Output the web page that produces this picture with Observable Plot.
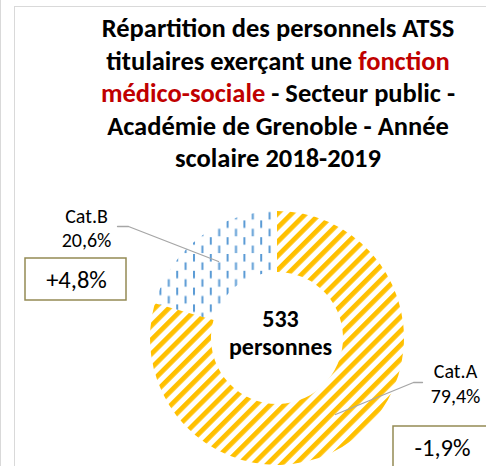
<!DOCTYPE html>
<html><head><meta charset="utf-8">
<script src="https://cdn.jsdelivr.net/npm/d3@7"></script>
<script src="https://cdn.jsdelivr.net/npm/@observablehq/plot@0.6"></script>
<style>
body{margin:0;background:#fff;}
#wrap{position:relative;width:486px;height:466px;overflow:hidden;font-family:Carlito,Lato,sans-serif;}
.edge{position:absolute;left:0;top:0;width:1px;height:466px;background:#d9d9d9;}
.frame{position:absolute;left:14px;top:6px;width:700px;height:700px;border:1.5px solid #d9d9d9;}
#title{position:absolute;left:0;top:12px;width:556px;text-align:center;font-weight:bold;font-size:26.5px;line-height:32.5px;white-space:nowrap;color:#000;}
#title .red{color:#c00000;}
#chart{position:absolute;left:0;top:0;}
</style></head>
<body>
<div id="wrap">
  <div class="edge"></div>
  <div class="frame"></div>
  <div id="chart"></div>
  <div id="title">Répartition des personnels ATSS<br>titulaires exerçant une <span class="red">fonction</span><br><span class="red">médico-sociale</span> - Secteur public -<br>Académie de Grenoble - Année<br>scolaire 2018-2019</div>
</div>
<script>
// ---- data ----
const categories = ["Cat.A", "Cat.B"];
const shares = [79.4, 20.6];
const shareLabels = ["79,4%", "20,6%"];
const evolutions = ["-1,9%", "+4,8%"];
const totalValue = "533";
const totalUnit = "personnes";

// ---- layout (pixel space) ----
const donutGeom = {cx: 277, cy: 338, outer: 127, inner: 66};
const labelPos = [{x: 455, y1: 371, y2: 396}, {x: 86, y1: 216, y2: 240}];
const boxPos = [{x1: 393, x2: 520, y1: 426, y2: 500, tx: 442, ty: 448}, {x1: 25, x2: 126, y1: 258, y2: 300, tx: 76, ty: 280}];
const leaderPts = [
  [[422, 382], [413, 382], [335, 414]],
  [[117, 226], [128, 226], [218, 261]]
];
const fills = ["#FFC000", "#5B9BD5"];

const table = categories.map((c, i) => ({category: c, value: shares[i], label: shareLabels[i], evo: evolutions[i], i}));

function donut(index, scales, values, dims) {
  const sx = scales.x || (v => v), sy = scales.y || (v => v);
  const g = d3.create("svg:g");
  const defs = g.append("defs");
  const pA = defs.append("pattern").attr("id", "patA").attr("patternUnits", "userSpaceOnUse")
    .attr("width", 10).attr("height", 10).attr("patternTransform", "rotate(45)");
  pA.append("rect").attr("x", 0).attr("y", 0).attr("width", 4.8).attr("height", 10).attr("fill", fills[0]);
  const pB = defs.append("pattern").attr("id", "patB").attr("patternUnits", "userSpaceOnUse")
    .attr("width", 16.8).attr("height", 16.8);
  pB.append("rect").attr("x", 0).attr("y", 0).attr("width", 2).attr("height", 7.5).attr("fill", fills[1]);
  pB.append("rect").attr("x", 8.4).attr("y", 8.4).attr("width", 2).attr("height", 7.5).attr("fill", fills[1]);
  const cx = sx(donutGeom.cx), cy = sy(donutGeom.cy);
  const R = sx(donutGeom.cx + donutGeom.outer) - cx;
  const r = sx(donutGeom.cx + donutGeom.inner) - cx;
  const arcs = d3.pie().sort(null).value(d => d.value)(table);
  const arc = d3.arc().innerRadius(r).outerRadius(R);
  g.append("g").attr("transform", `translate(${cx},${cy})`)
    .selectAll("path").data(arcs).join("path")
    .attr("d", arc)
    .attr("fill", d => d.index === 0 ? "url(#patA)" : "url(#patB)");
  return g.node();
}

const leaders = leaderPts.flatMap((pts, k) => pts.map(([x, y]) => ({x, y, k})));
const font = "Carlito, Lato, sans-serif";

const plot = Plot.plot({
  width: 486, height: 466, margin: 0,
  x: {domain: [0, 486], range: [0, 486], axis: null},
  y: {domain: [0, 466], range: [0, 466], axis: null},
  style: {fontFamily: font, background: "transparent"},
  marks: [
    donut,
    Plot.line(leaders, {x: "x", y: "y", z: "k", stroke: "#a6a6a6", strokeWidth: 1.3}),
    Plot.text(table, {x: (d) => labelPos[d.i].x, y: (d) => labelPos[d.i].y1, text: "category", fontSize: 20, fill: "#000"}),
    Plot.text(table, {x: (d) => labelPos[d.i].x, y: (d) => labelPos[d.i].y2, text: "label", fontSize: 20, fill: "#000"}),
    Plot.rect(table, {x1: d => boxPos[d.i].x1, x2: d => boxPos[d.i].x2, y1: d => boxPos[d.i].y1, y2: d => boxPos[d.i].y2, fill: "white", stroke: "#948A54", strokeWidth: 1.5}),
    Plot.text(table, {x: d => boxPos[d.i].tx, y: d => boxPos[d.i].ty, text: "evo", fontSize: 24.5, fill: "#000"}),
    Plot.text([totalValue], {x: () => donutGeom.cx + 3, y: () => 319, text: d => d, fontSize: 24, fontWeight: "bold", fill: "#000"}),
    Plot.text([totalUnit], {x: () => donutGeom.cx + 3, y: () => 347, text: d => d, fontSize: 24, fontWeight: "bold", fill: "#000"})
  ]
});
document.getElementById("chart").appendChild(plot);
</script>
</body></html>
